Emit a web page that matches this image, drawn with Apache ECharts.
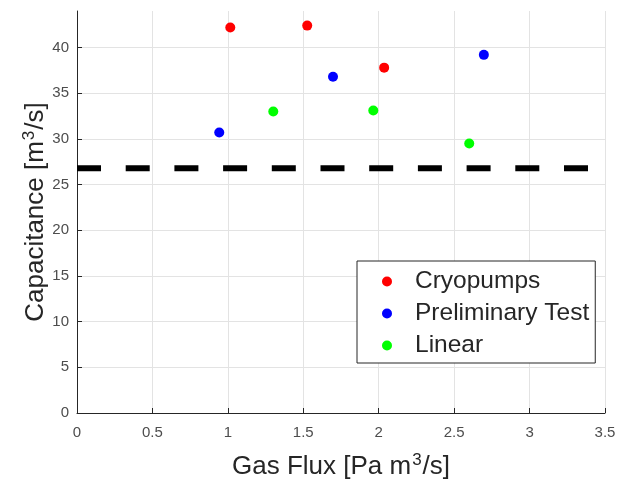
<!DOCTYPE html>
<html>
<head>
<meta charset="utf-8">
<script src="https://cdn.jsdelivr.net/npm/echarts@6/dist/echarts.min.js"></script>
<style>
  html, body { margin: 0; padding: 0; background: #fff; }
  #chart { width: 629px; height: 482px; }
</style>
</head>
<body>
<div id="chart"></div>
<script>
// 读图估计的数据
var cryoX = [1.016, 1.526, 2.036];
var cryoY = [42.2, 42.4, 37.8];
var prelimX = [0.943, 1.697, 2.697];
var prelimY = [30.7, 36.8, 39.2];
var linearX = [1.301, 1.964, 2.600];
var linearY = [33.0, 33.1, 29.5];
var limitX = [0, 3.5];
var limitY = [26.8, 26.8];
var seriesNames = ['Cryopumps', 'Preliminary Test', 'Linear'];

function pairs(xs, ys) {
    return xs.map(function (x, i) { return [x, ys[i]]; });
}

var FONT = 'Liberation Sans, Arial, sans-serif';
var supRich = {
    a: { fontSize: 26, fontFamily: FONT, color: '#262626' },
    s: { fontSize: 17, fontFamily: FONT, color: '#262626', padding: [0, 1, 13, 1] }
};

var chart = echarts.init(document.getElementById('chart'), null, { renderer: 'canvas' });

chart.setOption({
    animation: false,
    backgroundColor: '#ffffff',
    grid: {
        left: 77, right: 24, top: 11, bottom: 69,
        outerBoundsMode: 'none'
    },
    xAxis: {
        type: 'value',
        min: 0, max: 3.5, interval: 0.5,
        name: '{a|Gas Flux [Pa m}{s|3}{a|/s]}',
        nameLocation: 'middle',
        nameGap: 39,
        nameTextStyle: { rich: supRich },
        axisLine: { show: true, lineStyle: { color: '#262626', width: 1 } },
        axisTick: { show: true, inside: true, length: 5, lineStyle: { color: '#262626' } },
        axisLabel: { fontSize: 15, fontFamily: FONT, color: '#4d4d4d', margin: 12 },
        splitLine: { show: true, lineStyle: { color: '#e3e3e3', width: 1 } }
    },
    yAxis: {
        type: 'value',
        min: 0, max: 44, interval: 5,
        name: '{a|Capacitance [m}{s|3}{a|/s]}',
        nameLocation: 'middle',
        nameGap: 26,
        nameMoveOverlap: false,
        nameTextStyle: { rich: supRich },
        axisLine: { show: true, lineStyle: { color: '#262626', width: 1 } },
        axisTick: { show: true, inside: true, length: 5, lineStyle: { color: '#262626' } },
        axisLabel: { fontSize: 15, fontFamily: FONT, color: '#4d4d4d', margin: 8, showMaxLabel: false },
        splitLine: { show: true, showMaxLine: false, lineStyle: { color: '#e3e3e3', width: 1 } }
    },
    legend: {
        data: seriesNames,
        orient: 'vertical',
        left: 357, top: 261,
        padding: [8, 6, 5, 25],
        itemGap: 7,
        itemWidth: 10, itemHeight: 10,
        icon: 'circle',
        backgroundColor: '#ffffff',
        borderColor: '#262626',
        borderWidth: 1,
        textStyle: { fontSize: 24.5, lineHeight: 24, fontFamily: FONT, color: '#262626', padding: [0, 0, 0, 18] }
    },
    series: [
        {
            name: 'limit',
            type: 'line',
            data: pairs(limitX, limitY),
            symbol: 'none',
            lineStyle: { color: '#000000', width: 6, type: [24, 24.7], cap: 'butt' },
            z: 1,
            silent: true
        },
        {
            name: seriesNames[0],
            type: 'scatter',
            data: pairs(cryoX, cryoY),
            symbol: 'circle', symbolSize: 10,
            itemStyle: { color: '#ff0000', opacity: 1 }
        },
        {
            name: seriesNames[1],
            type: 'scatter',
            data: pairs(prelimX, prelimY),
            symbol: 'circle', symbolSize: 10,
            itemStyle: { color: '#0000ff', opacity: 1 }
        },
        {
            name: seriesNames[2],
            type: 'scatter',
            data: pairs(linearX, linearY),
            symbol: 'circle', symbolSize: 10,
            itemStyle: { color: '#00ff00', opacity: 1 }
        }
    ]
});
</script>
</body>
</html>
